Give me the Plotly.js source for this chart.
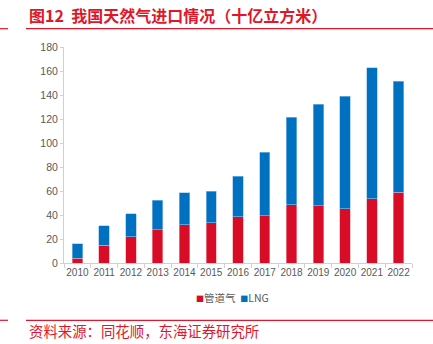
<!DOCTYPE html>
<html><head><meta charset="utf-8">
<script src="https://cdn.plot.ly/plotly-3.0.1.min.js"></script>
<style>html,body{margin:0;padding:0;background:#fff;}#chart{width:433px;height:344px;}</style>
</head><body><div id="chart"></div>
<script>
const years = ['2010','2011','2012','2013','2014','2015','2016','2017','2018','2019','2020','2021','2022'];
const pipeline = [3.9, 14.8, 22.0, 27.6, 31.7, 33.7, 38.4, 39.2, 48.4, 47.6, 45.4, 53.7, 58.8];
const lng = [12.3, 16.4, 19.2, 24.5, 26.8, 26.2, 34.0, 52.9, 73.0, 84.9, 93.5, 109.1, 92.6];
const seriesNames = ['管道气', 'LNG'];
const colors = ['#D80C27', '#0070C0'];
const red = '#E0162B';
const font = 'Liberation Sans, Arial, Noto Sans CJK SC, sans-serif';
const cjk = 'Noto Sans CJK SC, sans-serif';

const traces = [
  {type:'bar', x:years, y:pipeline, name:seriesNames[0], marker:{color:colors[0], line:{width:0.6, color:'#f4a0a8'}}},
  {type:'bar', x:years, y:lng, name:seriesNames[1], marker:{color:colors[1], line:{width:0.6, color:'#8fc3ea'}}}
];

const layout = {
  width:433, height:344,
  margin:{l:64, r:21, t:47, b:81},
  paper_bgcolor:'#fff', plot_bgcolor:'#fff',
  barmode:'stack', bargap:0.61,
  showlegend:false,
  font:{family:font, size:10, color:'#595959'},
  xaxis:{type:'category', showgrid:false, showline:true, linecolor:'#d0d0d0', linewidth:1,
         ticks:'outside', tickson:'boundaries', ticklen:4, tickcolor:'#d0d0d0', tickangle:0,
         tickfont:{family:font, size:10, color:'#595959'}},
  yaxis:{range:[0,180], dtick:20, showgrid:false, zeroline:false, showline:true, linecolor:'#d0d0d0', linewidth:1,
         ticks:'outside', ticklen:3, tickcolor:'#d0d0d0',
         tickfont:{family:font, size:10.5, color:'#595959'}},
  shapes:[
    {type:'line', xref:'paper', yref:'paper', x0:-38/348, x1:416/348, y0:(344-81-28.7)/216, y1:(344-81-28.7)/216, line:{color:red, width:1.2}},
    {type:'line', xref:'paper', yref:'paper', x0:-64/348, x1:-56/348, y0:(344-81-28.7)/216, y1:(344-81-28.7)/216, line:{color:red, width:1.2}},
    {type:'line', xref:'paper', yref:'paper', x0:-38/348, x1:416/348, y0:(263-320.3)/216, y1:(263-320.3)/216, line:{color:red, width:1.2}},
    {type:'line', xref:'paper', yref:'paper', x0:-64/348, x1:-56/348, y0:(263-320.3)/216, y1:(263-320.3)/216, line:{color:red, width:1.2}}
  ],
  annotations:[
    {xref:'paper', yref:'paper', x:-37/348, y:(263-15)/216, xanchor:'left', yanchor:'middle', showarrow:false,
     text:'<b>图12  我国天然气进口情况（十亿立方米）</b>', font:{family:cjk, size:16, color:red}},
    {xref:'paper', yref:'paper', x:-37/348, y:(263-330)/216, xanchor:'left', yanchor:'middle', showarrow:false,
     text:'资料来源：同花顺，东海证券研究所', font:{family:cjk, size:14.4, color:red}},
    {xref:'paper', yref:'paper', x:(194-64)/348, y:(263-297)/216, xanchor:'left', yanchor:'middle', showarrow:false,
     text:'<span style="color:'+colors[0]+';font-size:8px">■</span>'+seriesNames[0]+'  <span style="color:'+colors[1]+';font-size:8px">■</span>'+seriesNames[1],
     font:{family:cjk, size:10.5, color:'#595959'}}
  ]
};
Plotly.newPlot('chart', traces, layout, {displayModeBar:false, staticPlot:true});
</script></body></html>
